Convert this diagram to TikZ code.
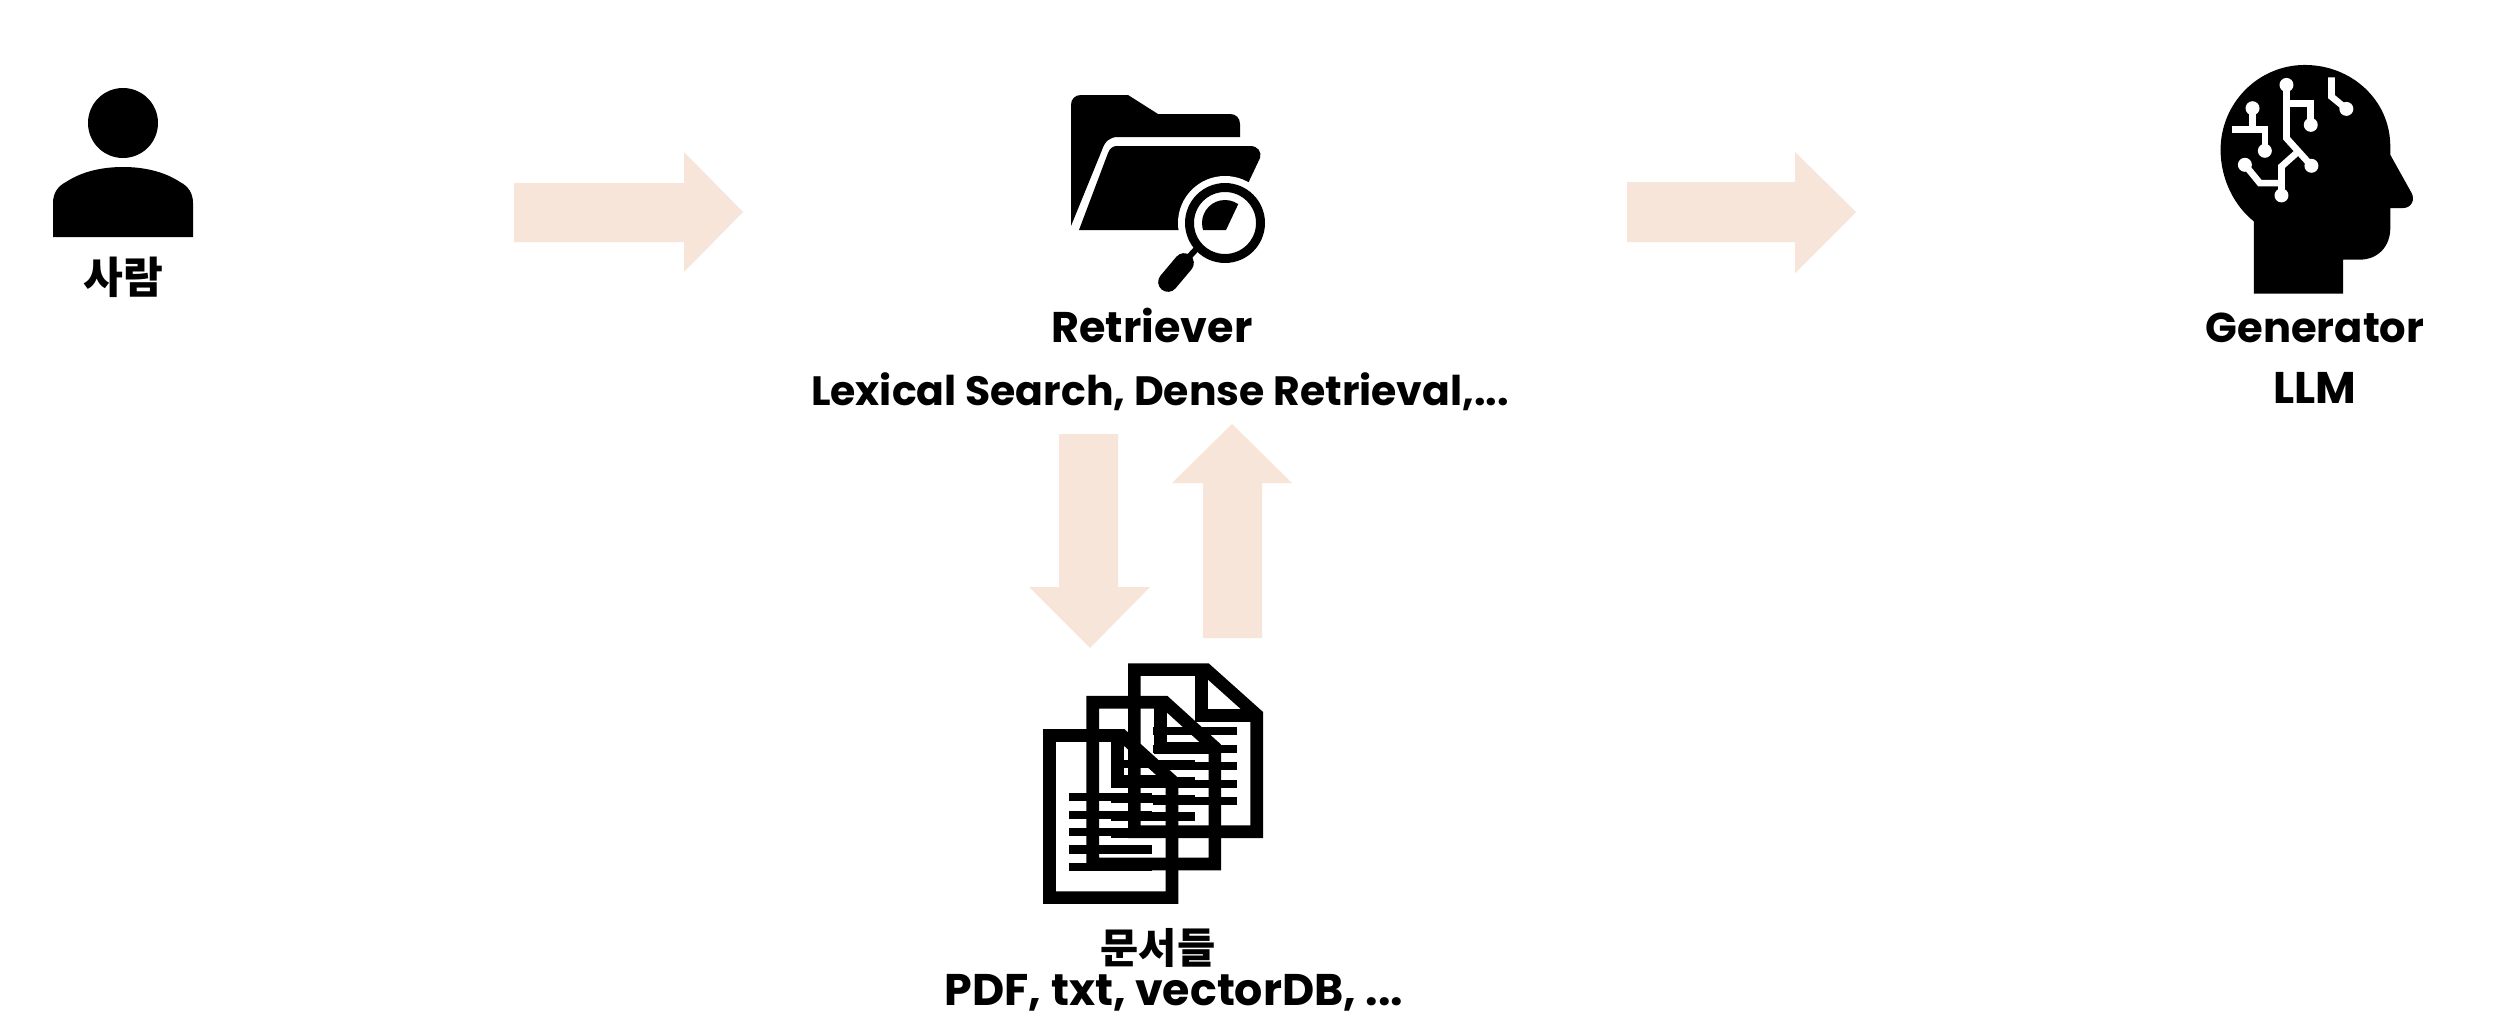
\documentclass[tikz,border=0pt]{standalone}
\usepackage{fontspec}
\setmainfont{Poppins}
\newfontfamily\krfont{Noto Sans CJK KR}
\definecolor{arrowfill}{RGB}{247,229,218}
\tikzset{
  blockarrow/.style={fill=arrowfill,draw=none},
  icon/.style={fill=black,draw=none},
  latinlabel/.style={anchor=base,inner sep=0pt,font=\fontsize{#1}{14}\selectfont\bfseries},
  latinlabel/.default=12.6,
  krlabel/.style={anchor=center,inner sep=0pt,font=\krfont\fontsize{#1}{13}\selectfont\bfseries},
  circuit/.style={draw=white,line width=1.9pt,line join=miter},
  solder/.style={fill=white,draw=none},
  docstroke/.style={draw=black,line width=3.6pt,line join=miter},
  docline/.style={draw=black,line width=2.4pt}
}
\newcommand{\frontfolderpath}{(1079,230) -- (1108,153) .. controls (1110,148) and (1113,146) .. (1117,146) -- (1250,146) .. controls (1258,146) and (1262,152) .. (1260,158) -- (1226,230) -- cycle}
\newcommand{\onedoc}[5]{%
  % #1 left #2 top #3 right #4 bottom #5 fold x offset
  \draw[docstroke] (#1,#2) -- (#5,#2) -- (#3,#2+136) -- (#3,#4) -- (#1,#4) -- cycle;
  \draw[docstroke] (#5-14,#2) -- (#5-14,#2+138) -- (#3,#2+138);
}
\begin{document}
\begin{tikzpicture}[x=0.01cm,y=-0.01cm]
\useasboundingbox (0,0) rectangle (2508,1018);
\fill[white] (0,0) rectangle (2508,1018);

% person
\fill[icon] (123,123) circle [radius=35];
\fill[icon] (53,237) -- (193,237) -- (193,203)
  .. controls (193,193) and (188,186) .. (180,182)
  .. controls (165,172) and (145,167) .. (123,167)
  .. controls (101,167) and (81,172) .. (66,182)
  .. controls (58,186) and (53,193) .. (53,203) -- cycle;
\node[krlabel=12.3] (person) at (123,277) {사람};

% horizontal arrows
\fill[blockarrow] (514,183) -- (684,183) -- (684,152) -- (743,212) -- (684,272) -- (684,242) -- (514,242) -- cycle;
\fill[blockarrow] (1627,182) -- (1795,182) -- (1795,152) -- (1856,212) -- (1795,273) -- (1795,242) -- (1627,242) -- cycle;
% vertical arrows
\fill[blockarrow] (1059,434) -- (1118,434) -- (1118,587) -- (1150,587) -- (1090,648) -- (1029,587) -- (1059,587) -- cycle;
\fill[blockarrow] (1203,638) -- (1262,638) -- (1262,483) -- (1292,483) -- (1232,424) -- (1172,483) -- (1203,483) -- cycle;

% folder with magnifier
\fill[icon] (1071,226) -- (1071,105) .. controls (1071,99) and (1075,95) .. (1081,95) -- (1128,95) -- (1158,114) -- (1230,114) .. controls (1236,114) and (1240,118) .. (1240,124) -- (1240,137) -- (1118,137) .. controls (1110,137) and (1105,141) .. (1102,150) -- cycle;
\fill[icon] \frontfolderpath;
\fill[white] (1225,223) circle [radius=47];
\begin{scope}
  \clip \frontfolderpath;
  \fill[icon] (1225,223) circle [radius=23];
\end{scope}
\draw[black,line width=2.55pt] (1225,223) circle [radius=35.5];
\draw[black,line width=1.7pt] (1188,258) -- (1201,244);
\draw[black,line width=5.6pt,line cap=round] (1184,263) -- (1168,282);

\node[latinlabel=12.2] (retr) at (1152,342) {Retriever};
\node[latinlabel=11.65] (retrsub) at (1160,405) {Lexical Search, Dense Retrieval,...};

% head
\begin{scope}[shift={(2160,40)},x=0.003333cm,y=-0.003333cm]
  \fill[icon] (282,762) -- (550,762) -- (550,660) -- (600,660)
    .. controls (655,660) and (692,620) .. (692,565) -- (692,505) -- (730,505)
    .. controls (755,505) and (768,480) .. (755,458) -- (692,345) -- (692,320)
    .. controls (692,180) and (575,75) .. (435,75)
    .. controls (295,75) and (182,190) .. (182,330)
    .. controls (182,420) and (225,500) .. (282,545) -- cycle;
  \draw[circuit] (380,135) -- (380,295) -- (455,378);
  \draw[circuit] (380,190) -- (453,190) -- (453,255);
  \draw[circuit] (278,205) -- (278,268);
  \draw[circuit] (215,268) -- (315,268) -- (315,333);
  \draw[circuit] (255,375) -- (300,430) -- (365,430);
  \draw[circuit] (365,467) -- (365,380) -- (412,338);
  \draw[circuit] (515,112) -- (515,170) -- (560,207);
  \foreach \p in {(380,135),(453,255),(278,205),(315,333),(255,375),(365,467),(455,378),(560,207)}
    \fill[solder] \p circle [radius=21];
\end{scope}
\node[latinlabel=11.85] (gen) at (2315,342) {Generator};
\node[latinlabel=12.6] (llm) at (2315,403) {LLM};

% documents
\begin{scope}[shift={(920,640)},x=0.003333cm,y=-0.003333cm]
  \onedoc{644}{89}{1012}{576}{860}
  \onedoc{519}{187}{886}{673}{736}
  \onedoc{389}{287}{757}{774}{607}
  \foreach \yy in {274,327,379,432,484} \draw[docline] (700,\yy) -- (952,\yy);
  \foreach \yy in {372,425,477,530,582} \draw[docline] (575,\yy) -- (826,\yy);
  \foreach \yy in {472,525,577,630,682} \draw[docline] (448,\yy) -- (697,\yy);
\end{scope}
\node[krlabel=11.8] (docs) at (1158,948) {문서들};
\node[latinlabel=12.6] (docsub) at (1174,1005) {PDF, txt, vectorDB, ...};
\end{tikzpicture}
\end{document}
